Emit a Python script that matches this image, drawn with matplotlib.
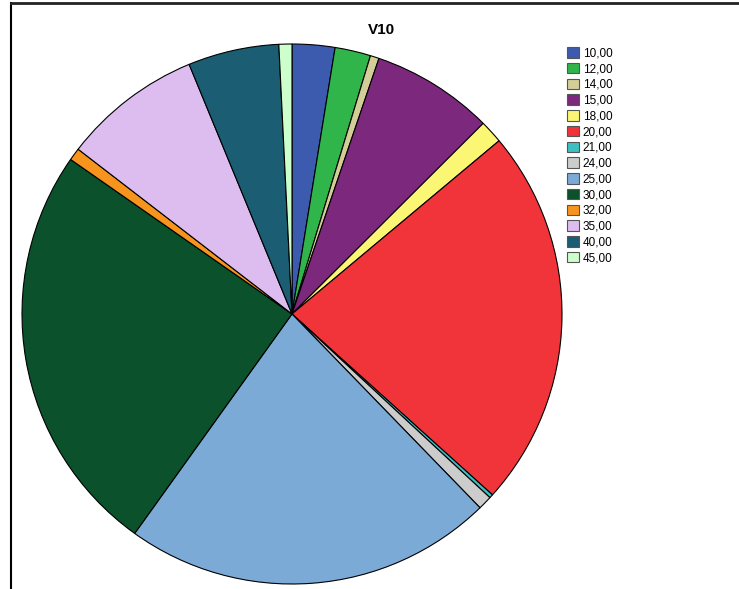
import matplotlib.pyplot as plt
from matplotlib.lines import Line2D

plt.rcParams['font.family'] = ['Liberation Sans', 'DejaVu Sans']

# slice sizes (degrees of the circle)
labels = ['10,00', '12,00', '14,00', '15,00', '18,00', '20,00', '21,00',
          '24,00', '25,00', '30,00', '32,00', '35,00', '40,00', '45,00']
values = [9.2, 7.7, 1.9, 26.3, 5.0, 82.0, 0.8, 3.0, 79.8, 89.3, 2.7, 30.0, 19.6, 2.8]
colors = ['#3C5AAE', '#2FB54A', '#D3CE97', '#7B287D', '#FBF774', '#F1343A', '#3EBFC0',
          '#CCCCCC', '#7BAAD6', '#0B512B', '#F7941D', '#DDBDF0', '#1B5E74', '#CCFFCC']

W, H = 739, 589
fig = plt.figure(figsize=(W / 100, H / 100), dpi=100)

# pie centre ~ (292, 314) px, radius ~ 270 px
cx, cy, r = 292, 314, 270
ax = fig.add_axes([(cx - r) / W, (H - cy - r) / H, 2 * r / W, 2 * r / H])
wedges, _ = ax.pie(values, colors=colors, startangle=90, counterclock=False,
                   wedgeprops=dict(edgecolor='black', linewidth=0.8))
ax.set_xlim(-1, 1)
ax.set_ylim(-1, 1)
ax.set_aspect('equal')
ax.axis('off')

fig.text(381 / W, 1 - 30 / H, 'V10', ha='center', va='center',
         fontsize=11, fontweight='bold')

leg = fig.legend(wedges, labels, loc='upper left',
                 bbox_to_anchor=(567 / W, 1 - 47 / H), frameon=False,
                 fontsize=8.5, handlelength=1.0, handleheight=1.0,
                 handletextpad=0.33, labelspacing=0.29, borderpad=0,
                 borderaxespad=0)
for h in leg.legend_handles:
    h.set_edgecolor('#555555')
    h.set_linewidth(0.8)

# outer frame (left and top visible)
fig.add_artist(Line2D([11 / W, 11 / W], [0, 1 - 3 / H], color='black', lw=1.5))
fig.add_artist(Line2D([11 / W, 1], [1 - 3 / H, 1 - 3 / H], color='#222222', lw=2))

fig.savefig('out.png', dpi=100)
